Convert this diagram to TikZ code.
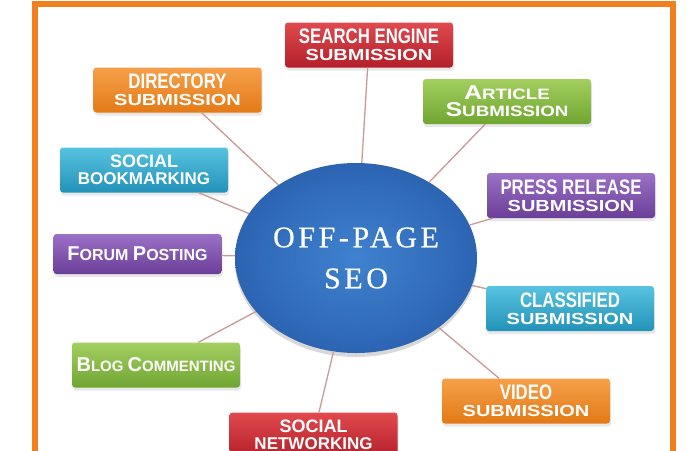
\documentclass[tikz,border=0pt]{standalone}
\usepackage{fontspec}
\setmainfont{Liberation Sans}
\newfontfamily\narrowfont[FakeStretch=0.8]{Liberation Sans}
\newfontfamily\widefont[FakeStretch=1.25]{Liberation Sans}
\newfontfamily\seofont[LetterSpace=12, FakeBold=0.6]{Liberation Serif}
\usetikzlibrary{shapes.geometric, shadows}
\definecolor{framecol}{HTML}{F07F1E}
\definecolor{linkcol} {HTML}{C99A96}
\definecolor{redtop}  {HTML}{E04A4E}
\definecolor{redbot}  {HTML}{B3202A}
\definecolor{orgtop}  {HTML}{F5A04A}
\definecolor{orgbot}  {HTML}{E37A16}
\definecolor{grntop}  {HTML}{A3CF5F}
\definecolor{grnbot}  {HTML}{70A532}
\definecolor{teltop}  {HTML}{58C3E0}
\definecolor{telbot}  {HTML}{2392B9}
\definecolor{purtop}  {HTML}{9B71C6}
\definecolor{purbot}  {HTML}{6B3E98}
\definecolor{seoin}   {HTML}{3F82CF}
\definecolor{seoout}  {HTML}{2C64B2}
\newcommand\capfirst[1]{{\fontsize{20}{17}\selectfont #1}}
\newcommand\topline[1]{{\narrowfont\bfseries\fontsize{21}{17}\selectfont #1}}
\newcommand\subline[1]{{\widefont\bfseries\fontsize{16}{17}\selectfont #1}}
\tikzset{
  basebox/.style={rectangle, rounded corners=3pt, minimum width=168pt, minimum height=45pt, inner sep=2pt,
    align=center, text=white, font=\bfseries\fontsize{17}{17}\selectfont,
    drop shadow={opacity=0.18, shadow xshift=1pt, shadow yshift=-3pt}},
  rnode/.style={basebox, top color=redtop, bottom color=redbot},
  onode/.style={basebox, top color=orgtop, bottom color=orgbot},
  gnode/.style={basebox, top color=grntop, bottom color=grnbot},
  tnode/.style={basebox, top color=teltop, bottom color=telbot},
  vnode/.style={basebox, top color=purtop, bottom color=purbot},
  enode/.style={ellipse, minimum width=242pt, minimum height=190pt, inner sep=0pt, inner color=seoin, outer color=seoout,
    align=center, text=white, font=\seofont\fontsize{30}{41}\selectfont,
    drop shadow={opacity=0.3, shadow xshift=0pt, shadow yshift=-4pt}},
  link/.style={draw=linkcol, line width=1.3pt},
}

\begin{document}
\begin{tikzpicture}[x=1pt, y=-1pt]
  \clip (0,0) rectangle (700,450);
  \fill[white] (0,0) rectangle (700,450);
  % outer frame
  \draw[framecol, line width=5.5pt] (35,4) rectangle (673,480);
  % centre
  \node[enode] (seo) at (356,258) {OFF-PAGE\\SEO};
  % top and right
  \node[rnode] (search)     at (369,45)    {\topline{SEARCH ENGINE}\\\subline{SUBMISSION}};
  \node[gnode] (article)    at (507,101.5) {{\widefont\fontsize{15}{17}\selectfont\capfirst{A}RTICLE}\\{\widefont\fontsize{15}{17}\selectfont\capfirst{S}UBMISSION}};
  \node[vnode] (press)      at (571,195.5) {\topline{PRESS RELEASE}\\\subline{SUBMISSION}};
  \node[tnode] (classified) at (570,308.5) {\topline{CLASSIFIED}\\\subline{SUBMISSION}};
  \node[onode] (video)      at (526,401)   {\topline{VIDEO}\\\subline{SUBMISSION}};
  % left and bottom
  \node[onode] (directory)  at (177.5,90)  {\topline{DIRECTORY}\\\subline{SUBMISSION}};
  \node[tnode] (bookmark)   at (144,170)   {{\fontsize{18}{17}\selectfont SOCIAL}\\BOOKMARKING};
  \node[vnode, minimum height=40pt] (forum) at (137.5,254) {{\fontsize{16}{17}\selectfont\capfirst{F}ORUM \capfirst{P}OSTING}};
  \node[gnode] (blog)       at (156,365)   {{\fontsize{15}{17}\selectfont\capfirst{B}LOG \capfirst{C}OMMENTING}};
  \node[rnode] (network)    at (313.5,435) {{\fontsize{18}{17}\selectfont SOCIAL}\\NETWORKING};
  % spokes
  \draw[link] (search)     -- (seo);
  \draw[link] (article)    -- (seo);
  \draw[link] (press)      -- (seo);
  \draw[link] (classified) -- (seo);
  \draw[link] (video)      -- (seo);
  \draw[link] (directory)  -- (seo);
  \draw[link] (bookmark)   -- (seo);
  \draw[link] (forum)      -- (seo);
  \draw[link] (blog)       -- (seo);
  \draw[link] (network)    -- (seo);
\end{tikzpicture}
\end{document}
